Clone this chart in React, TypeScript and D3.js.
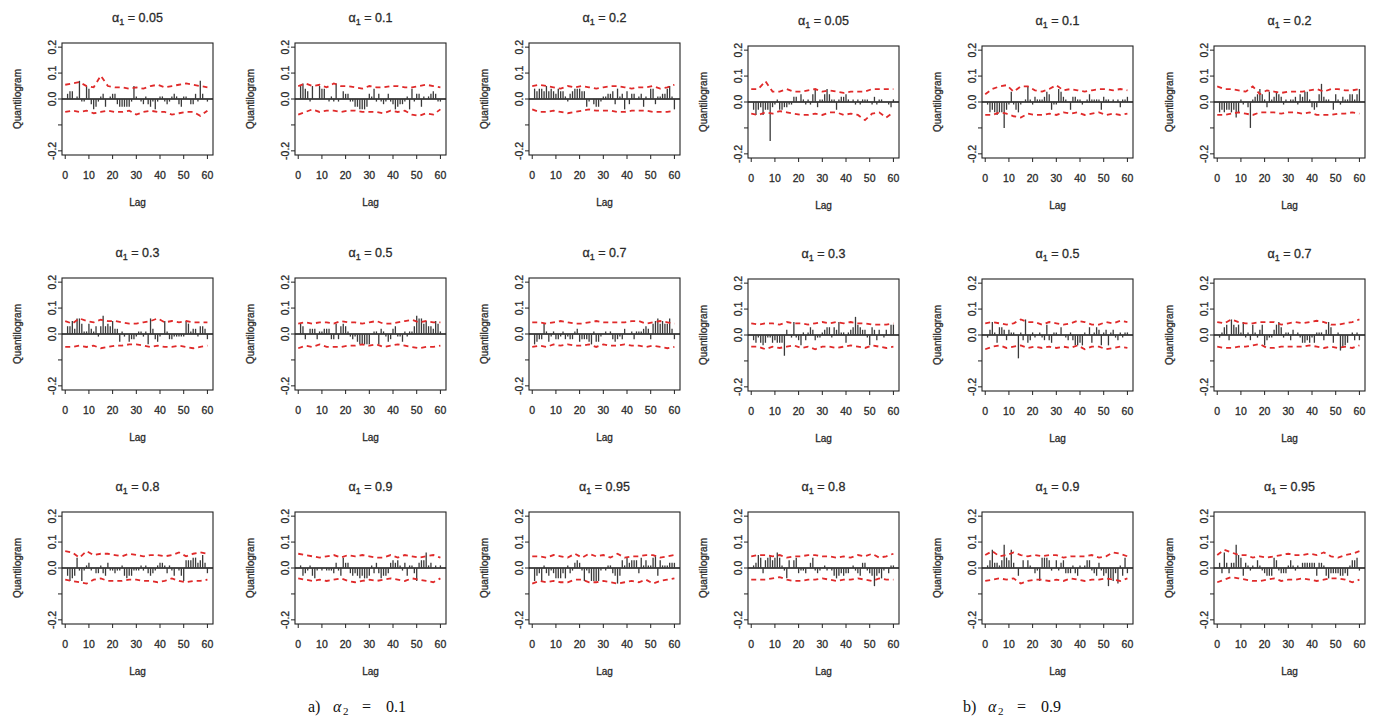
import React from 'react';
import * as d3 from 'd3';

// ---------- categories / ticks ----------
const LAGS = d3.range(1, 61);
const BAND_LAGS = [0, 3, 6, 9, 12, 15, 18, 21, 24, 27, 30, 33, 36, 39, 42, 45, 48, 51, 54, 57, 60];
const X_TICKS = [0, 10, 20, 30, 40, 50, 60];
const Y_TICKS = [-0.2, -0.1, 0, 0.1, 0.2];
const Y_TICK_LABELS = ['-0.2', '', '0.0', '0.1', '0.2'];
const ALPHA1 = ['0.05', '0.1', '0.2', '0.3', '0.5', '0.7', '0.8', '0.9', '0.95'];
const CAPTIONS = ['a)', 'b)'];
const ALPHA2 = ['0.1', '0.9'];

// ---------- quantilogram values, alpha2 = 0.1 ----------
const qA_005 = [.02,.03,.03,0,.01,.07,-.01,-.01,.05,.04, -.02,-.04,-.03,-.01,.01,.02,-.03,0,.01,.02, .02,-.02,-.03,-.03,-.03,-.03,-.03,-.01,.05,.01, 0,-.01,-.02,.01,-.02,-.03,-.01,-.04,-.01,.01, .01,-.01,-.02,-.01,.01,.02,.01,-.02,-.03,.01, .01,0,-.02,-.02,.02,-.01,.07,.02,0,-.01];
const qA_01 = [.05,.06,.04,.03,-.01,.05,0,0,.05,.04, .04,0,-.01,.01,-.01,.06,-.01,0,.03,.02, .02,-.01,-.01,-.03,-.03,-.04,-.04,-.04,-.03,.02, .01,.04,-.01,.02,-.01,-.02,-.01,.02,-.01,-.02, -.04,-.03,-.02,-.02,-.01,.01,-.04,.04,-.01,.02, .02,-.03,.01,0,.01,.02,.03,.02,-.01,-.01];
const qA_02 = [.04,.03,.04,.04,.03,.05,.03,.04,.03,.02, .04,.03,.03,.01,-.01,.02,.03,.04,.04,.04, .03,.03,-.03,-.01,0,-.02,-.03,-.03,-.01,.01, .01,.02,.02,.03,-.02,.04,.01,.02,-.04,.03, -.02,.02,.02,0,.01,.02,-.03,.01,0,.04, .04,-.02,.01,.01,.02,.02,.04,.05,.01,-.04];
const qA_03 = [.03,.03,.05,.02,.06,.06,.04,.01,.01,.04, .02,.01,.03,-.01,.03,.07,.03,.04,.03,.05, .02,.02,-.03,.01,-.01,0,-.03,-.02,-.02,-.01, .01,.01,-.01,.01,-.04,.06,.02,-.02,-.03,-.01, 0,.05,.01,-.02,-.02,-.01,-.01,-.01,-.01,-.01, .05,.04,.01,.02,.02,-.01,.03,.03,.02,-.02];
const qA_05 = [.04,.03,-.02,0,.02,.02,.02,-.02,.01,.01, .02,.02,.02,-.02,-.02,.04,-.02,.03,.04,.03, .01,-.01,-.02,-.01,-.03,-.04,-.04,-.04,-.04,-.04, 0,.01,.01,-.04,.02,.01,-.01,-.03,-.02,.02, .03,-.01,-.01,-.03,.01,-.01,.01,.01,.03,.07, .06,.06,.04,.05,.03,.03,.02,.05,.04,.01];
const qA_07 = [-.04,-.03,-.02,-.02,.04,.01,-.03,-.01,.01,-.02, -.02,-.01,.01,-.02,-.01,-.02,-.02,.01,.02,-.03, -.02,-.02,-.02,-.03,-.04,.01,-.03,-.03,-.01,0, .01,0,.01,-.02,-.03,-.02,-.01,-.02,.02,0, 0,.01,-.02,.01,.01,.01,.02,.03,.02,-.02, .04,.05,.06,.04,.05,.04,.04,.06,.02,-.02];
const qA_08 = [-.03,-.05,-.04,-.03,.04,-.01,-.05,-.01,.01,.02, -.01,0,-.02,-.02,.01,-.02,-.03,.02,-.01,-.01, -.02,-.01,-.01,.01,-.03,-.04,-.03,-.03,-.01,-.01, -.01,.01,-.01,.01,-.02,-.03,-.02,-.01,.01,.02, .02,.01,-.02,.01,-.01,-.03,0,-.01,-.03,-.05, .03,.03,.03,.04,.04,.02,.03,.05,.02,-.02];
const qA_09 = [.01,-.03,-.02,-.01,.01,-.03,-.04,-.01,0,-.01, 0,-.01,-.01,-.01,-.02,.02,-.01,-.03,.04,.02, .02,-.02,-.03,-.02,-.03,-.04,-.03,-.04,-.04,-.03, .01,-.02,.02,-.02,-.04,-.03,-.03,-.02,.02,.03, .02,.03,.01,-.01,.02,-.03,.01,.01,-.02,-.05, .02,.03,.03,.06,.01,.02,0,.01,0,.01];
const qA_095 = [-.05,-.03,-.02,-.05,.01,-.02,-.03,-.01,-.02,-.04, -.04,-.04,-.02,-.04,.01,-.02,-.01,.02,.03,.02, -.01,-.05,-.01,-.02,-.05,-.05,-.05,-.05,-.01,0, -.01,.01,.01,-.02,-.03,-.06,-.03,.03,.01,.04, .02,.03,.03,.03,-.02,.04,.01,.03,.01,.01, .04,.05,-.03,.03,.01,.01,.01,.02,.02,.02];

// ---------- quantilogram values, alpha2 = 0.9 ----------
const qB_005 = [-.03,-.05,-.03,-.02,-.05,-.03,-.03,-.15,-.02,-.01, .01,-.03,-.03,-.02,-.02,-.01,-.01,.02,.02,0, .03,.01,-.01,.01,-.01,.03,.05,-.02,.01,.01, .03,.05,.03,.01,.01,-.03,.01,.02,.02,.03, .01,0,.01,-.01,.01,-.01,.01,.01,.01,0, -.01,.02,-.01,.01,.01,0,0,-.01,-.02,.01];
const qB_01 = [-.01,-.04,-.03,-.04,-.05,-.04,-.04,-.1,-.03,-.01, .04,-.01,-.03,-.04,-.01,0,.01,.06,.01,-.01, .02,.01,.01,.01,.02,.04,.03,-.03,-.01,-.01, .05,.04,.02,.01,0,-.03,.02,.02,.01,.01, -.01,0,.01,.03,.01,.01,.01,.01,-.03,.02, .01,.01,0,.01,0,.01,-.02,.01,.01,.02];
const qB_02 = [-.04,-.03,-.04,-.03,-.03,-.04,-.03,-.06,-.04,.01, -.01,0,-.02,-.1,.01,.02,.03,.05,.03,.01, -.02,.04,.01,.02,.04,.03,.02,-.01,.01,0, .01,.01,.02,-.01,.03,.02,.04,.04,.01,-.02, -.03,-.02,.03,.07,.02,.01,.01,0,-.03,.03, .01,-.01,.02,.01,.01,.03,.03,.01,.03,.05];
const qB_03 = [-.02,-.03,-.01,-.03,-.04,-.03,-.01,-.01,-.03,-.02, -.03,-.03,-.03,-.08,.02,0,-.01,.05,-.01,-.02, -.04,.01,-.02,.01,.03,.02,-.02,-.01,-.01,.01, .02,.03,.03,-.01,.03,.02,.05,.01,.01,-.03, .01,.02,.03,.07,.04,.03,.02,.02,-.01,-.04, .03,.02,-.02,.02,0,-.01,.02,0,.04,.04];
const qB_05 = [-.01,.02,.05,.01,-.03,.03,.03,.02,-.02,.02, .01,.01,0,-.09,.01,-.02,.06,-.03,-.02,.01, -.01,0,.01,-.01,-.02,.04,-.02,-.03,.01,.01, 0,.03,0,-.01,-.02,.01,-.02,-.04,-.04,-.03, -.04,.01,0,.03,-.03,.01,.03,.02,-.04,.01, .02,-.04,.01,.02,-.01,-.02,.01,-.01,.01,.01];
const qB_07 = [-.01,.01,.03,.04,-.02,.06,.04,.03,.04,.01, .05,-.01,.01,-.02,.04,.01,-.01,.02,.04,-.04, -.02,-.01,-.01,.02,.04,.05,.03,-.01,.01,.01, -.02,.02,0,.01,-.01,-.03,-.03,-.02,-.03,-.01, -.03,.01,.01,.01,-.02,.02,.05,.03,-.03,0, .01,-.06,-.05,-.04,-.03,0,.01,-.02,.01,-.02];
const qB_08 = [.01,.02,.05,.04,-.02,.03,.04,.05,.03,.04, .06,.04,.01,-.01,-.04,.03,0,.03,.04,-.02, -.01,-.01,-.02,0,.02,.04,-.01,-.02,-.01,0, .01,-.01,0,-.01,-.03,-.04,-.03,-.02,-.03,-.02, -.02,0,.01,-.01,-.02,-.03,.02,.02,-.01,-.02, -.03,-.07,-.03,-.02,-.04,-.01,0,-.02,.01,.01];
const qB_09 = [.01,.03,.07,.02,.02,.01,.03,.09,.04,.03, .07,.02,0,-.03,0,.03,0,.03,.01,0, -.02,-.01,-.05,.04,.04,.04,.03,-.01,0,.03, -.01,.02,.03,-.02,-.02,-.02,.01,-.02,-.03,.01, 0,.01,.03,.03,-.01,-.02,-.03,.02,-.01,-.03, -.02,-.07,-.04,-.05,-.02,-.06,.01,-.03,.04,-.02];
const qB_095 = [.02,-.02,.06,.02,-.02,.02,.02,.09,.05,.04, -.03,.02,.01,-.01,.01,0,.03,.01,-.01,-.02, -.03,-.03,-.03,.04,.03,-.01,-.02,-.02,-.02,.01, .03,.01,-.01,.01,0,.02,.02,.02,.02,.02, .02,-.03,.02,.02,.01,-.03,-.04,-.02,-.02,-.02, -.02,-.03,-.03,-.02,-.03,.01,.03,.03,.04,-.01];

// ---------- confidence bands (at BAND_LAGS) ----------
const upA_005 = [.055,.06,.065,.05,.045,.09,.05,.045,.045,.04,.045,.04,.05,.055,.045,.05,.055,.06,.055,.05,.045];
const loA_005 = [-.05,-.045,-.05,-.045,-.055,-.05,-.045,-.05,-.05,-.045,-.06,-.05,-.045,-.05,-.05,-.06,-.055,-.05,-.05,-.065,-.045];
const upA_01 = [.05,.06,.05,.055,.045,.06,.05,.05,.045,.04,.05,.045,.045,.05,.05,.045,.045,.05,.055,.05,.045];
const loA_01 = [-.06,-.05,-.04,-.05,-.045,-.045,-.05,-.045,-.045,-.05,-.05,-.05,-.055,-.045,-.05,-.045,-.06,-.065,-.055,-.06,-.04];
const upA_02 = [.05,.055,.05,.045,.04,.05,.045,.05,.045,.04,.045,.05,.05,.045,.04,.045,.045,.05,.04,.045,.055];
const loA_02 = [-.04,-.05,-.05,-.045,-.05,-.055,-.05,-.045,-.04,-.045,-.045,-.045,-.05,-.05,-.045,-.045,-.045,-.05,-.05,-.05,-.045];
const upA_03 = [.05,.04,.06,.05,.045,.055,.05,.05,.045,.04,.04,.045,.05,.06,.045,.05,.045,.05,.045,.045,.045];
const loA_03 = [-.05,-.05,-.045,-.05,-.045,-.055,-.05,-.045,-.045,-.04,-.04,-.045,-.05,-.045,-.05,-.05,-.045,-.05,-.055,-.05,-.045];
const upA_05 = [.04,.045,.04,.045,.045,.04,.05,.045,.045,.04,.045,.05,.04,.04,.045,.05,.055,.045,.05,.045,.045];
const loA_05 = [-.055,-.045,-.05,-.04,-.05,-.05,-.05,-.045,-.045,-.04,-.045,-.04,-.05,-.045,-.04,-.045,-.05,-.055,-.05,-.05,-.045];
const upA_07 = [.045,.045,.04,.045,.05,.045,.04,.04,.045,.05,.045,.045,.045,.045,.05,.05,.04,.045,.05,.045,.04];
const loA_07 = [-.05,-.045,-.05,-.04,-.045,-.04,-.045,-.045,-.04,-.05,-.04,-.045,-.045,-.04,-.045,-.045,-.05,-.045,-.05,-.055,-.05];
const upA_08 = [.065,.06,.04,.065,.05,.055,.055,.05,.045,.055,.05,.045,.05,.05,.045,.05,.06,.045,.055,.06,.055];
const loA_08 = [-.045,-.05,-.055,-.06,-.045,-.04,-.05,-.05,-.05,-.045,-.045,-.05,-.05,-.055,-.05,-.04,-.05,-.055,-.05,-.05,-.045];
const upA_09 = [.055,.05,.045,.04,.045,.05,.04,.05,.045,.05,.045,.04,.04,.05,.04,.05,.045,.04,.045,.05,.04];
const loA_09 = [-.04,-.045,-.05,-.045,-.05,-.045,-.04,-.05,-.055,-.05,-.045,-.05,-.045,-.04,-.045,-.05,-.04,-.045,-.05,-.055,-.04];
const upA_095 = [.045,.045,.04,.05,.045,.04,.055,.04,.055,.045,.05,.04,.055,.04,.045,.045,.05,.05,.04,.045,.05];
const loA_095 = [-.06,-.05,-.055,-.05,-.055,-.055,-.045,-.045,-.055,-.055,-.05,-.055,-.06,-.055,-.05,-.055,-.045,-.06,-.05,-.045,-.04];

const upB_005 = [.05,.05,.08,.04,.04,.05,.04,.04,.045,.05,.04,.045,.04,.035,.04,.04,.04,.05,.05,.05,.05];
const loB_005 = [-.045,-.05,-.04,-.045,-.035,-.04,-.045,-.05,-.05,-.045,-.05,-.04,-.04,-.05,-.045,-.05,-.07,-.045,-.04,-.06,-.04];
const upB_01 = [.03,.05,.06,.065,.04,.06,.06,.045,.04,.05,.065,.045,.05,.045,.04,.045,.05,.05,.045,.05,.045];
const loB_01 = [-.05,-.05,-.04,-.045,-.055,-.06,-.045,-.05,-.05,-.045,-.05,-.04,-.045,-.04,-.05,-.045,-.04,-.05,-.045,-.05,-.045];
const upB_02 = [.06,.05,.05,.045,.04,.06,.03,.045,.04,.035,.04,.04,.04,.045,.05,.04,.05,.05,.045,.045,.05];
const loB_02 = [-.05,-.05,-.045,-.04,-.045,-.05,-.04,-.04,-.04,-.045,-.04,-.04,-.045,-.04,-.05,-.05,-.05,-.045,-.045,-.04,-.045];
const upB_03 = [.045,.04,.045,.045,.04,.05,.045,.045,.04,.045,.05,.045,.05,.045,.05,.045,.045,.04,.04,.04,.045];
const loB_03 = [-.045,-.045,-.055,-.045,-.05,-.045,-.04,-.05,-.045,-.055,-.045,-.045,-.05,-.045,-.04,-.045,-.05,-.04,-.045,-.05,-.045];
const upB_05 = [.045,.05,.045,.04,.045,.06,.05,.05,.04,.05,.045,.04,.045,.055,.05,.04,.04,.05,.045,.055,.05];
const loB_05 = [-.055,-.045,-.04,-.05,-.045,-.04,-.05,-.045,-.05,-.045,-.05,-.045,-.05,-.04,-.055,-.045,-.045,-.055,-.05,-.045,-.05];
const upB_07 = [.05,.045,.06,.05,.045,.045,.05,.05,.05,.04,.045,.05,.045,.05,.055,.05,.04,.04,.045,.05,.06];
const loB_07 = [-.045,-.05,-.05,-.045,-.045,-.04,-.035,-.05,-.05,-.045,-.045,-.045,-.045,-.04,-.045,-.05,-.045,-.05,-.045,-.05,-.04];
const upB_08 = [.045,.05,.05,.045,.05,.04,.045,.045,.05,.05,.045,.045,.04,.045,.04,.05,.045,.055,.04,.045,.055];
const loB_08 = [-.045,-.045,-.045,-.04,-.035,-.045,-.05,-.05,-.045,-.045,-.04,-.045,-.05,-.045,-.045,-.04,-.045,-.05,-.04,-.045,-.045];
const upB_09 = [.05,.065,.045,.05,.06,.05,.045,.05,.045,.05,.05,.04,.045,.045,.045,.05,.04,.045,.06,.055,.045];
const loB_09 = [-.05,-.045,-.04,-.045,-.04,-.06,-.05,-.045,-.045,-.05,-.045,-.05,-.04,-.045,-.05,-.045,-.045,-.04,-.045,-.05,-.04];
const upB_095 = [.05,.07,.06,.05,.05,.04,.045,.04,.045,.05,.055,.05,.05,.055,.05,.06,.045,.04,.05,.055,.065];
const loB_095 = [-.055,-.045,-.035,-.04,-.045,-.05,-.05,-.045,-.04,-.05,-.045,-.045,-.04,-.045,-.05,-.045,-.04,-.04,-.045,-.055,-.045];

const BARS_A = [qA_005, qA_01, qA_02, qA_03, qA_05, qA_07, qA_08, qA_09, qA_095];
const BARS_B = [qB_005, qB_01, qB_02, qB_03, qB_05, qB_07, qB_08, qB_09, qB_095];
const UP_A = [upA_005, upA_01, upA_02, upA_03, upA_05, upA_07, upA_08, upA_09, upA_095];
const LO_A = [loA_005, loA_01, loA_02, loA_03, loA_05, loA_07, loA_08, loA_09, loA_095];
const UP_B = [upB_005, upB_01, upB_02, upB_03, upB_05, upB_07, upB_08, upB_09, upB_095];
const LO_B = [loB_005, loB_01, loB_02, loB_03, loB_05, loB_07, loB_08, loB_09, loB_095];

// ---------- layout ----------
const COL_LEFT = [62, 295, 529, 748, 982, 1214];
const ROW_TOP_A = [43, 278, 512];
const ROW_TOP_B = [46, 279, 512];
const PW = 151;
const PH = 112;
const FONT = "'Liberation Sans', Arial, Helvetica, sans-serif";
const SERIF = "'Liberation Serif', 'DejaVu Serif', serif";
const TXT = '#2a2a2a';
const TXT_STROKE = { stroke: '#2a2a2a', strokeWidth: 0.3 };

type PanelProps = {
  left: number; top: number; title: string;
  bars: number[]; upper: number[]; lower: number[];
};

function Panel({ left, top, title, bars, upper, lower }: PanelProps) {
  const x = d3.scaleLinear().domain([-1.36, 62.36]).range([left, left + PW]);
  const y = d3.scaleLinear().domain([-0.216, 0.216]).range([top + PH, top]);
  const line = d3.line<number>().x((_, i) => x(BAND_LAGS[i])).y((d) => y(d));
  const bottom = top + PH;
  return (
    <g>
      <text x={left + PW / 2} y={top - 21} textAnchor="middle" fontSize={12.5} fontFamily={FONT} fill={TXT} {...TXT_STROKE}>
        <tspan>α</tspan>
        <tspan fontSize={9} dy={3}>1</tspan>
        <tspan dy={-3}> = {title}</tspan>
      </text>
      <line x1={left} x2={left + PW} y1={y(0)} y2={y(0)} stroke="#111" strokeWidth={1.3} />
      {LAGS.map((l, i) => (
        <line key={l} x1={x(l)} x2={x(l)} y1={y(0)} y2={y(bars[i])} stroke="#3a3a3a" strokeWidth={1.3} />
      ))}
      <path d={line(upper) || ''} fill="none" stroke="#e02a2a" strokeWidth={1.8} strokeDasharray="5 4" />
      <path d={line(lower) || ''} fill="none" stroke="#e02a2a" strokeWidth={1.8} strokeDasharray="5 4" />
      <rect x={left} y={top} width={PW} height={PH} fill="none" stroke="#222" strokeWidth={1.1} />
      {X_TICKS.map((t) => (
        <g key={t}>
          <line x1={x(t)} x2={x(t)} y1={bottom} y2={bottom + 4} stroke="#222" strokeWidth={1} />
          <text x={x(t)} y={bottom + 24} textAnchor="middle" fontSize={10.5} fontFamily={FONT} fill={TXT} {...TXT_STROKE}>{t}</text>
        </g>
      ))}
      <text x={left + PW / 2} y={bottom + 51} textAnchor="middle" fontSize={10} fontFamily={FONT} fill={TXT} {...TXT_STROKE}>Lag</text>
      {Y_TICKS.map((t, i) => (
        <g key={t}>
          <line x1={left - 4} x2={left} y1={y(t)} y2={y(t)} stroke="#222" strokeWidth={1} />
          {Y_TICK_LABELS[i] && (
            <text transform={`translate(${left - 6},${y(t)}) rotate(-90)`} textAnchor="middle" fontSize={10.5} fontFamily={FONT} fill={TXT} {...TXT_STROKE}>
              {Y_TICK_LABELS[i]}
            </text>
          )}
        </g>
      ))}
      <text transform={`translate(${left - 41},${top + PH / 2}) rotate(-90)`} textAnchor="middle" fontSize={10} fontFamily={FONT} fill={TXT} {...TXT_STROKE}>
        Quantilogram
      </text>
    </g>
  );
}

function Caption({ cx, label, value }: { cx: number; label: string; value: string }) {
  const base = 712;
  return (
    <g fontFamily={SERIF} fill="#111" fontSize={16}>
      <text x={cx - 49} y={base}>{label}</text>
      <text x={cx - 24} y={base} fontStyle="italic">α</text>
      <text x={cx - 14} y={base + 3} fontSize={11}>2</text>
      <text x={cx + 5} y={base}>=</text>
      <text x={cx + 29} y={base}>{value}</text>
    </g>
  );
}

export default function App() {
  const panels: PanelProps[] = [];
  ALPHA1.forEach((a, i) => {
    const r = Math.floor(i / 3);
    const c = i % 3;
    panels.push({ left: COL_LEFT[c], top: ROW_TOP_A[r], title: a, bars: BARS_A[i], upper: UP_A[i], lower: LO_A[i] });
    panels.push({ left: COL_LEFT[c + 3], top: ROW_TOP_B[r], title: a, bars: BARS_B[i], upper: UP_B[i], lower: LO_B[i] });
  });
  const captionX = [357, 1012];
  return (
    <svg width={1384} height={719} style={{ position: 'absolute', left: 0, top: 0, background: '#fff' }}>
      <rect x={0} y={0} width={1384} height={719} fill="#fff" />
      {panels.map((p, i) => <Panel key={i} {...p} />)}
      {CAPTIONS.map((c, i) => (
        <Caption key={c} cx={captionX[i]} label={c} value={ALPHA2[i]} />
      ))}
    </svg>
  );
}
